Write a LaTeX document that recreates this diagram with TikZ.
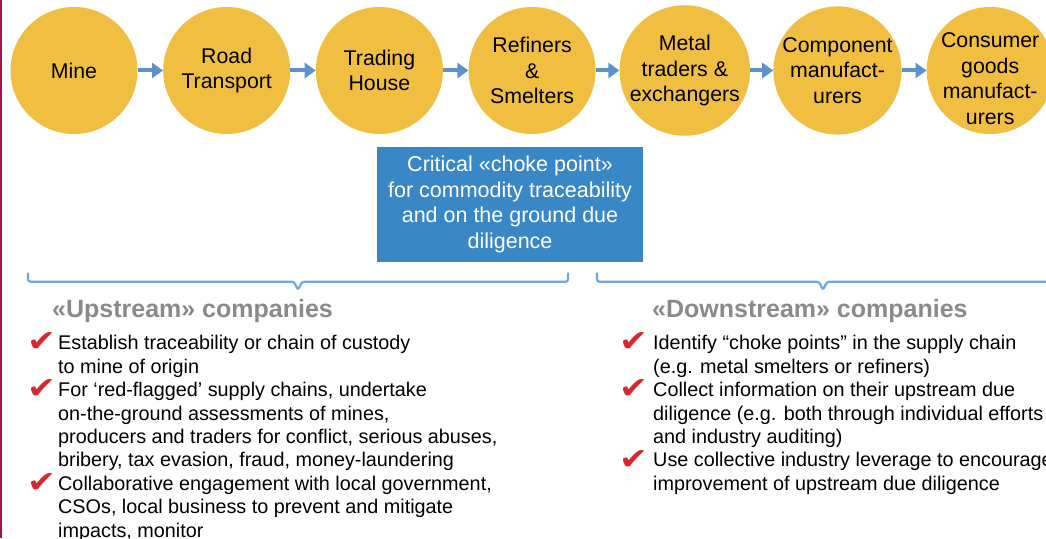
\documentclass[tikz,border=0pt]{standalone}
\usepackage{fontspec}
\setmainfont{Liberation Sans}
\newfontfamily\symbolfont{DejaVu Sans}
\usetikzlibrary{positioning,arrows.meta}

\definecolor{stageyellow}{RGB}{240,190,65}
\definecolor{flowblue}{RGB}{91,146,205}
\definecolor{chokeblue}{RGB}{58,135,198}
\definecolor{bracketblue}{RGB}{111,168,220}
\definecolor{headgray}{RGB}{138,138,138}
\definecolor{checkred}{RGB}{215,38,46}
\definecolor{edgered}{RGB}{160,24,64}

\begin{document}
\begin{tikzpicture}[x=1pt, y=1pt, node distance=152.7pt]
	\tikzset{stage/.style={circle, fill=stageyellow, minimum size=127pt, inner sep=0pt, align=center, font=\fontsize{21.3}{25.5}\selectfont},
	flow/.style={-{Triangle[length=11pt, width=15pt]}, line width=4pt, draw=flowblue},
	bracket/.style={draw=bracketblue, line width=2.2pt, rounded corners=2.5pt},
	heading/.style={anchor=base west, inner sep=0pt, text=headgray, font=\fontsize{25}{30}\selectfont\bfseries},
	item/.style={anchor=base west, inner sep=0pt, align=left, font=\fontsize{19.8}{23.4}\selectfont},
	checkmark/.style={anchor=base west, inner sep=0pt, text=checkred, xscale=1.15, font=\symbolfont\fontsize{30}{30}\selectfont}}

	\useasboundingbox (0,0) rectangle (1046,538);
	\fill[white] (0,0) rectangle (1046,538);
	\fill[edgered] (0,0) rectangle (2,538);

	% supply chain
	\node[stage] (mine) at (74,467.5) {Mine};
	\node[stage, right of=mine] (road) {Road\\Transport};
	\node[stage, right of=road] (trading) {Trading\\House};
	\node[stage, right of=trading] (refiners) {Refiners\\\&\\Smelters};
	\node[stage, right of=refiners] (metal) {Metal\\traders \&\\exchangers};
	\node[stage, right of=metal] (component) {Component\\manufact-\\urers};
	\node[stage, right of=component] (consumer) {};
	\node[align=center, inner sep=0pt, font=\fontsize{21.3}{25.5}\selectfont, yshift=-8pt] (consumertext) at (consumer)
		{Consumer\\goods\\manufact-\\urers};

	\draw[flow] (mine) -- (road);
	\draw[flow] (road) -- (trading);
	\draw[flow] (trading) -- (refiners);
	\draw[flow] (refiners) -- (metal);
	\draw[flow] (metal) -- (component);
	\draw[flow] (component) -- (consumer);

	% choke point
	\node[fill=chokeblue, text=white, minimum width=266pt, minimum height=115pt, inner sep=0pt, align=center,
		font=\fontsize{21.5}{25.4}\selectfont] (choke) at (510,333.5)
		{Critical «choke point»\\for commodity traceability\\and on the ground due\\diligence};

	% braces
	\draw[bracket] (28,265.3) -- (28,256.3) -- (294,256.3) -- (298,248) -- (302,256.3) -- (568,256.3) -- (568,265.3);
	\draw[bracket] (597,265.3) -- (597,256.3) -- (819,256.3) -- (823,248) -- (827,256.3) -- (1052,256.3) -- (1052,265.3);

	% upstream (items sit on their last line)
	\node[heading] (uphead) at (52,220) {«Upstream» companies};
	\node[checkmark] (upcheck1) at (27,186) {✔};
	\node[item] (up1) at (58,164.6) {Establish traceability or chain of custody\\to mine of origin};
	\node[checkmark] (upcheck2) at (27,139.2) {✔};
	\node[item] (up2) at (58,71) {For ‘red-flagged’ supply chains, undertake\\on-the-ground assessments of mines,\\producers and traders for conflict, serious abuses,\\bribery, tax evasion, fraud, money-laundering};
	\node[checkmark] (upcheck3) at (27,45.6) {✔};
	\node[item] (up3) at (58,0.8) {Collaborative engagement with local government,\\CSOs, local business to prevent and mitigate\\impacts, monitor};

	% downstream
	\node[heading] (downhead) at (652,220) {«Downstream» companies};
	\node[checkmark] (downcheck1) at (619,186) {✔};
	\node[item] (down1) at (653,164.6) {Identify “choke points” in the supply chain\\(e.g. metal smelters or refiners)};
	\node[checkmark] (downcheck2) at (619,139.2) {✔};
	\node[item] (down2) at (653,94.4) {Collect information on their upstream due\\diligence (e.g. both through individual efforts\\and industry auditing)};
	\node[checkmark] (downcheck3) at (619,69) {✔};
	\node[item] (down3) at (653,47.6) {Use collective industry leverage to encourage\\improvement of upstream due diligence};
\end{tikzpicture}
\end{document}
